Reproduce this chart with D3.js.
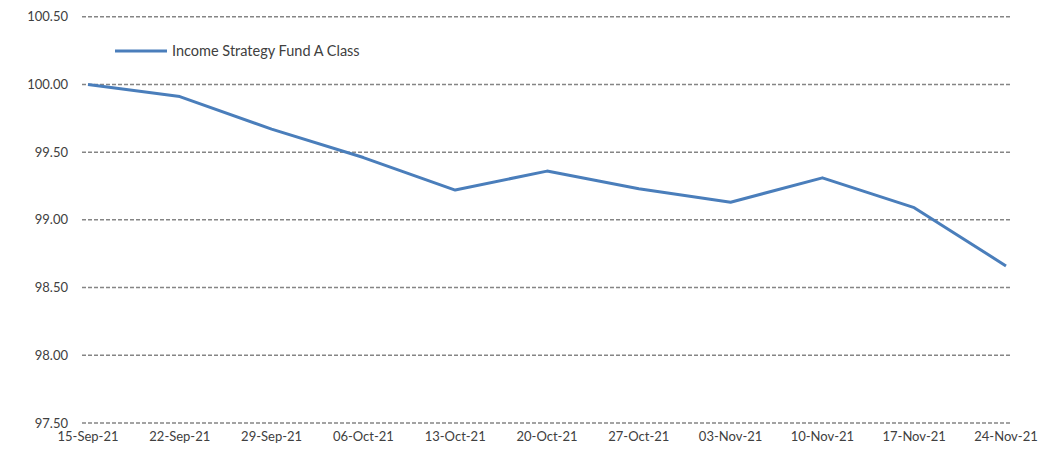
<!DOCTYPE html>
<html>
<head>
<meta charset="utf-8">
<script src="https://cdn.jsdelivr.net/npm/d3@7"></script>
<style>
  body { margin: 0; background: #fff; }
  text { font-family: Lato, "Open Sans", sans-serif; fill: #404040; }
</style>
</head>
<body>
<div id="container"></div>
<script>
const width = 1051;
const height = 452;

const seriesName = "Income Strategy Fund A Class";
const dates = ["2021-09-15", "2021-09-22", "2021-09-29", "2021-10-06", "2021-10-13", "2021-10-20",
               "2021-10-27", "2021-11-03", "2021-11-10", "2021-11-17", "2021-11-24"];
const values = [100.00, 99.91, 99.67, 99.46, 99.22, 99.36, 99.23, 99.13, 99.31, 99.09, 98.66];
const yTicks = [97.5, 98.0, 98.5, 99.0, 99.5, 100.0, 100.5];

const parse = d3.timeParse("%Y-%m-%d");
const fmt = d3.timeFormat("%d-%b-%y");
const data = dates.map((d, i) => ({ date: parse(d), value: values[i] }));

const svg = d3.select("#container")
    .append('svg')
    .attr('width', width)
    .attr('height', height)
    .attr('viewBox', [0, 0, width, height]);

const x = d3.scaleTime()
    .domain(d3.extent(data, d => d.date))
    .range([88, 1006]);

const y = d3.scaleLinear()
    .domain([97.5, 100.5])
    .range([423, 16.7]);

// gridlines
svg.append('g')
    .selectAll('line')
    .data(yTicks)
    .join('line')
    .attr('x1', 82)
    .attr('x2', 1012)
    .attr('y1', d => y(d))
    .attr('y2', d => y(d))
    .attr('stroke', '#858585')
    .attr('stroke-width', 1.5)
    .attr('stroke-dasharray', '4,2');

// y labels
svg.append('g')
    .selectAll('text')
    .data(yTicks)
    .join('text')
    .attr('x', 68)
    .attr('y', d => y(d))
    .attr('dy', '0.35em')
    .attr('text-anchor', 'end')
    .style('font-size', '13px')
    .text(d => d.toFixed(2));

// x labels
svg.append('g')
    .selectAll('text')
    .data(data)
    .join('text')
    .attr('x', d => x(d.date))
    .attr('y', 441)
    .attr('text-anchor', 'middle')
    .style('font-size', '13px')
    .text(d => fmt(d.date));

// line
svg.append('path')
    .datum(data)
    .attr('fill', 'none')
    .attr('stroke', '#4a7ebb')
    .attr('stroke-width', 3)
    .attr('stroke-linejoin', 'round')
    .attr('d', d3.line().x(d => x(d.date)).y(d => y(d.value)));

// legend
const legend = svg.append('g').attr('transform', 'translate(115,51)');
legend.append('line')
    .attr('x1', 0).attr('x2', 52)
    .attr('stroke', '#4a7ebb')
    .attr('stroke-width', 3);
legend.append('text')
    .attr('x', 57)
    .attr('dy', '0.35em')
    .style('font-size', '14.5px')
    .text(seriesName);
</script>
</body>
</html>
